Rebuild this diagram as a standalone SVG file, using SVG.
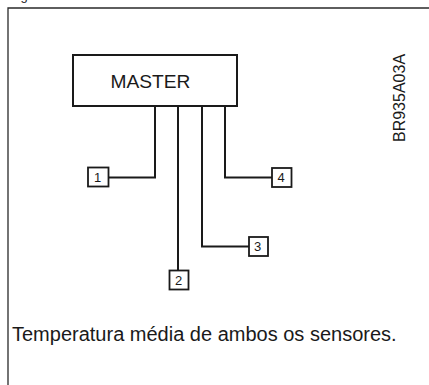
<svg xmlns="http://www.w3.org/2000/svg" width="429" height="385" viewBox="0 0 429 385">
  <style>
    .frame { fill: none; stroke: #2a2a2a; stroke-width: 1.3; }
    .box { fill: #ffffff; stroke: #1a1a1a; stroke-width: 2; }
    .sbox { fill: #ffffff; stroke: #1a1a1a; stroke-width: 1.8; }
    .wire { fill: none; stroke: #1a1a1a; stroke-width: 2; }
    .t { font-family: "Liberation Sans", Arial, sans-serif; fill: #1a1a1a; }
    .num { font-size: 13px; text-anchor: middle; }
  </style>
  <rect width="429" height="385" fill="#ffffff"/>
  <text class="t" x="20.5" y="-0.2" font-size="13">g</text>
  <path class="frame" d="M8,385 V8 H429"/>

  <g id="connectors">
    <path class="wire" d="M155,106 V177.5 H109"/>
    <path class="wire" d="M178,106 V270.5"/>
    <path class="wire" d="M202,106 V246.5 H249"/>
    <path class="wire" d="M225,106 V177.5 H272"/>
  </g>

  <g id="master">
    <rect class="box" x="73" y="55" width="164" height="51"/>
    <text class="t" x="110.5" y="88" font-size="19.2">MASTER</text>
  </g>

  <g id="sensor1">
    <rect class="sbox" x="88" y="167.5" width="20.5" height="19"/>
    <text class="t num" x="97.5" y="181.8">1</text>
  </g>
  <g id="sensor2">
    <rect class="sbox" x="169.5" y="270.5" width="19" height="19"/>
    <text class="t num" x="178.5" y="284.8">2</text>
  </g>
  <g id="sensor3">
    <rect class="sbox" x="249" y="237" width="19" height="19"/>
    <text class="t num" x="257.5" y="251.3">3</text>
  </g>
  <g id="sensor4">
    <rect class="sbox" x="272" y="168" width="19.5" height="19"/>
    <text class="t num" x="281" y="182.3">4</text>
  </g>

  <text class="t" font-size="16" transform="translate(405,142) rotate(-90)">BR935A03A</text>
  <text class="t" x="12" y="341" font-size="20">Temperatura média de ambos os sensores.</text>
</svg>
